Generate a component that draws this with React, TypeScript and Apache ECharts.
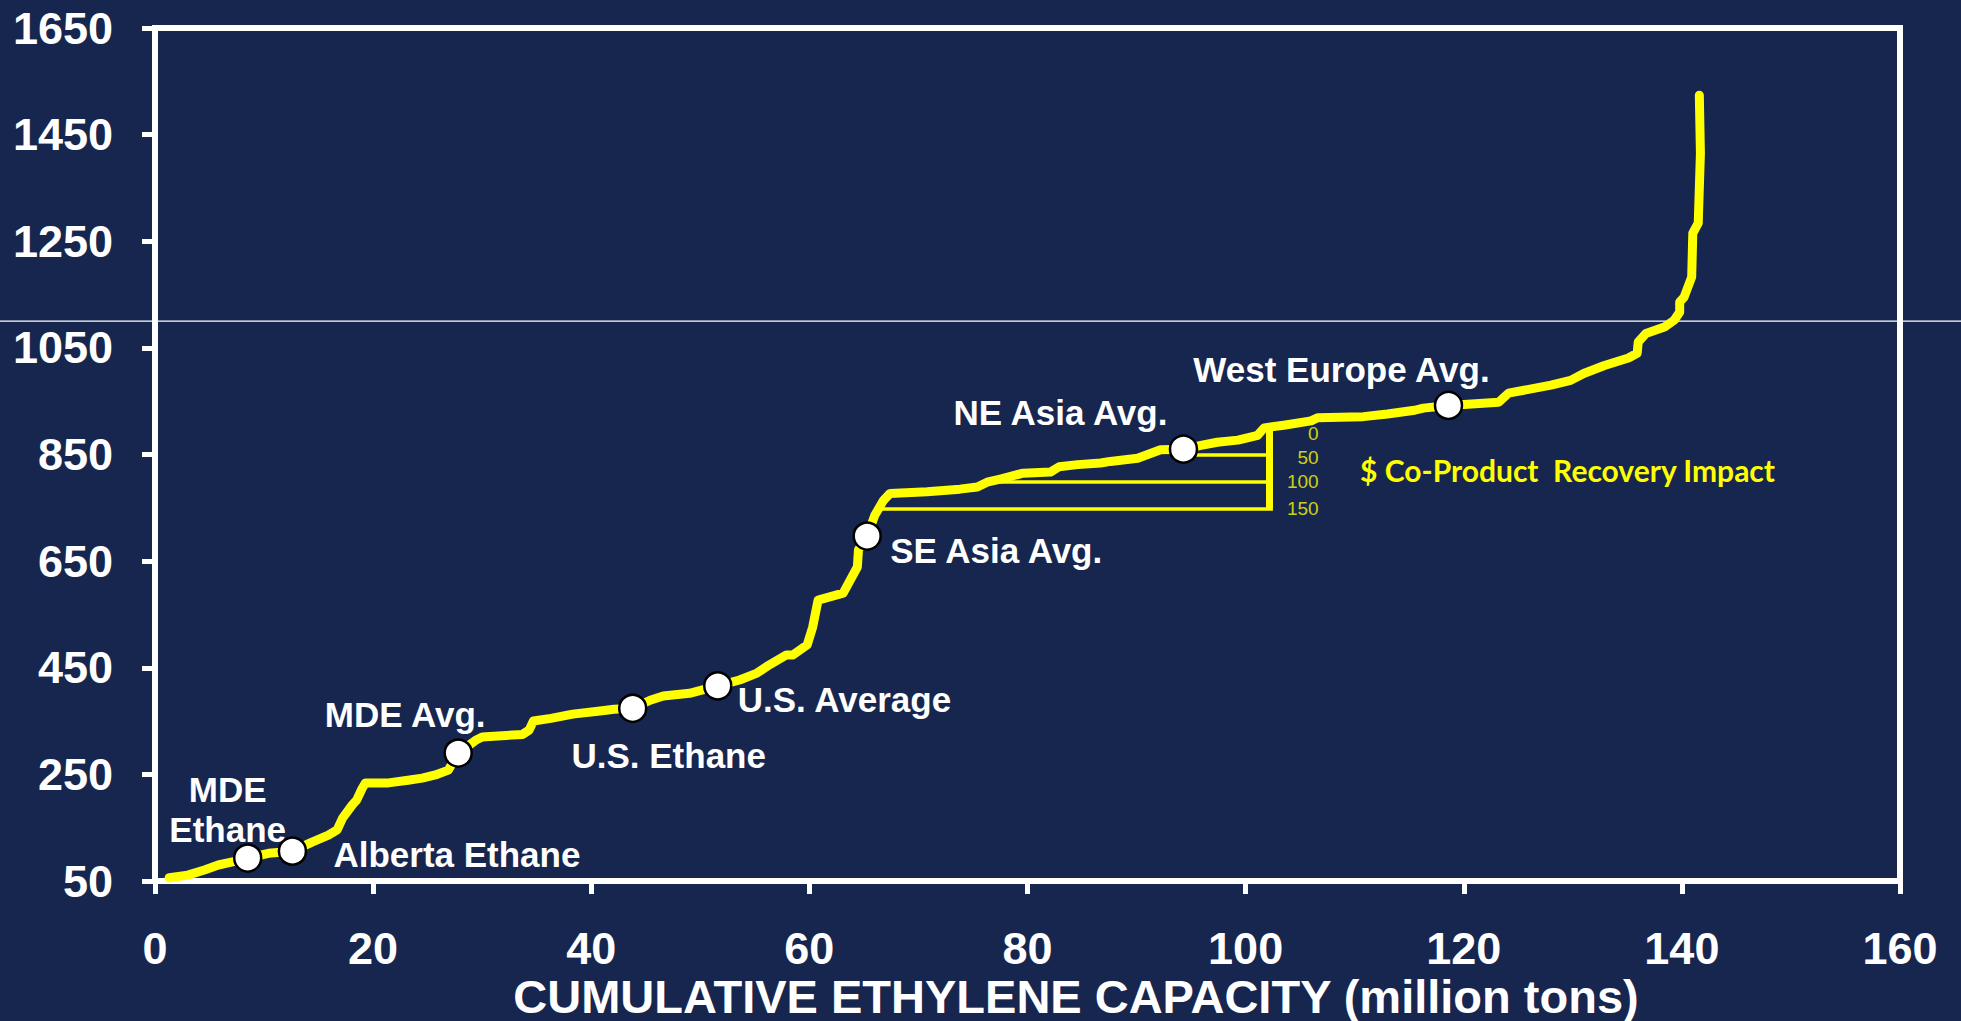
import React, { useEffect, useRef } from "react";
import * as echarts from "echarts";

// ---- data ----
const yTickValues = [50, 250, 450, 650, 850, 1050, 1250, 1450, 1650];
const xMin = 0;
const xMax = 160;
const xStep = 20;

const curveX = [
  1.3, 3.0, 4.6, 5.8, 7.1, 8.5, 10.4, 12.6, 14.4, 15.9, 16.7, 17.2, 18.1, 18.5, 19.0, 19.3,
  21.4, 23.2, 24.5, 25.7, 26.9, 27.8, 29.4, 30.0, 33.7, 34.3, 34.7, 36.3, 38.3, 40.8, 42.1,
  43.8, 45.4, 46.6, 49.0, 51.6, 53.6, 55.2, 56.3, 57.9, 58.5, 59.8, 60.3, 60.8, 63.1, 64.4,
  64.5, 65.3, 66.0, 66.8, 67.4, 70.8, 73.8, 75.4, 76.3, 77.5, 79.6, 82.1, 82.9, 84.6, 86.7,
  87.6, 90.1, 92.2, 94.3, 95.9, 97.4, 99.3, 101.1, 101.7, 103.5, 106.0, 106.6, 110.8, 113.0,
  115.5, 116.3, 118.6, 123.2, 124.1, 128.0, 129.8, 131.0, 132.9, 135.1, 135.9, 136.0, 136.7,
  138.4, 139.3, 139.8, 139.8, 140.2, 140.9, 141.0, 141.5, 141.7, 141.6,
];
const curveY = [
  56, 61, 71, 80, 86, 93, 102, 106, 123, 136, 146, 168, 193, 202, 224, 234,
  234, 239, 243, 249, 258, 290, 314, 320, 325, 333, 350, 355, 363, 369, 372,
  374, 389, 397, 402, 416, 427, 440, 455, 474, 474, 493, 526, 577, 590, 639,
  671, 697, 736, 764, 777, 780, 785, 789, 798, 804, 815, 817, 827, 831, 834,
  837, 843, 859, 860, 867, 873, 877, 886, 900, 905, 913, 919, 921, 926,
  933, 937, 942, 948, 965, 980, 989, 1002, 1017, 1031, 1040, 1061, 1077,
  1089, 1102, 1117, 1136, 1145, 1183, 1265, 1284, 1415, 1524,
];

const markerNames = [
  "MDE\nEthane",
  "Alberta Ethane",
  "MDE Avg.",
  "U.S. Ethane",
  "U.S. Average",
  "SE Asia Avg.",
  "NE Asia Avg.",
  "West Europe Avg.",
];
const markerX = [8.5, 12.6, 27.8, 43.8, 51.6, 65.3, 94.3, 118.6];
const markerY = [93, 106, 290, 374, 416, 697, 860, 942];

const bracketX = 102.2;
const bracketTop = 899;
const bracketOffsets = [0, 50, 100, 150];
const bracketLeftEnds = [94.3, 77.3, 66.6]; // for offsets 50, 100, 150
const gridLineValue = 1100;

const xAxisTitle = "CUMULATIVE ETHYLENE CAPACITY (million tons)";
const bracketTitle = "$ Co-Product  Recovery Impact";

// ---- styling / layout ----
const BG = "#16264F";
const YELLOW = "#FFFF00";
const FONT = "'Liberation Sans', Arial, sans-serif";

const markerLabelLayout: any[] = [
  { offset: [-20, -49], align: "center" },
  { offset: [41, 3], align: "left" },
  { offset: [-53, -39], align: "center" },
  { offset: [36, 47], align: "center" },
  { offset: [20, 14], align: "left" },
  { offset: [23, 14], align: "left" },
  { offset: [-123, -37], align: "center" },
  { offset: [-107, -36], align: "center" },
];
const bracketLabelDy = [5, 2, 0, 0];

export default function App() {
  const ref = useRef<HTMLDivElement>(null);

  useEffect(() => {
    document.body.style.margin = "0";
    document.body.style.background = BG;
    if (!ref.current) return;
    const chart = echarts.init(ref.current, undefined, { renderer: "svg" });

    const bracketSegments: any[] = [
      [
        { coord: [bracketX, bracketTop], lineStyle: { width: 7 } },
        { coord: [bracketX, bracketTop - bracketOffsets[3]] },
      ],
    ];
    bracketOffsets.slice(1).forEach((o, i) => {
      bracketSegments.push([
        { coord: [bracketLeftEnds[i], bracketTop - o], lineStyle: { width: 3.5 } },
        { coord: [bracketX + 0.3, bracketTop - o] },
      ]);
    });

    const option: any = {
      animation: false,
      backgroundColor: BG,
      grid: {
        left: 155,
        right: 61,
        top: 28,
        bottom: 140,
        show: true,
        borderColor: "#FFFFFF",
        borderWidth: 6,
        backgroundColor: "transparent",
      },
      xAxis: {
        type: "value",
        min: xMin,
        max: xMax,
        interval: xStep,
        axisLine: { show: true, lineStyle: { color: "#FFFFFF", width: 6 } },
        axisTick: { show: true, length: 13, inside: false, lineStyle: { color: "#FFFFFF", width: 5 } },
        splitLine: { show: false },
        axisLabel: {
          color: "#FFFFFF",
          fontSize: 45,
          fontWeight: "bold",
          fontFamily: FONT,
          lineHeight: 36,
          margin: 49,
          formatter: (v: number) => String(v),
        },
      },
      yAxis: {
        type: "value",
        min: yTickValues[0],
        max: yTickValues[yTickValues.length - 1],
        axisLine: { show: true, lineStyle: { color: "#FFFFFF", width: 6 } },
        axisTick: {
          show: true,
          length: 13,
          inside: false,
          customValues: yTickValues,
          lineStyle: { color: "#FFFFFF", width: 5 },
        },
        splitLine: { show: false },
        axisLabel: {
          customValues: yTickValues,
          color: "#FFFFFF",
          fontSize: 45,
          fontWeight: "bold",
          fontFamily: FONT,
          margin: 42,
          formatter: (v: number) => String(v),
        },
      },
      series: [
        {
          type: "line",
          data: curveX.map((x, i) => [x, curveY[i]]),
          showSymbol: false,
          symbol: "none",
          lineStyle: { color: YELLOW, width: 9, cap: "round", join: "round" },
          z: 3,
          markLine: {
            silent: true,
            symbol: ["none", "none"],
            label: { show: false },
            lineStyle: { color: YELLOW, type: "solid", width: 3.5 },
            data: bracketSegments,
          },
        },
        {
          type: "scatter",
          data: bracketOffsets.map((o, i) => ({
            value: [bracketX, bracketTop - o],
            label: { offset: [49, bracketLabelDy[i]] },
          })),
          symbolSize: 0,
          z: 4,
          label: {
            show: true,
            position: "inside",
            formatter: (p: any) => String(bracketOffsets[p.dataIndex]),
            align: "right",
            verticalAlign: "middle",
            color: YELLOW,
            fontSize: 19,
            fontFamily: FONT,
            textBorderWidth: 0,
          },
        },
        {
          type: "scatter",
          data: markerX.map((x, i) => ({
            value: [x, markerY[i]],
            name: markerNames[i],
            label: {
              offset: markerLabelLayout[i].offset,
              align: markerLabelLayout[i].align,
            },
          })),
          symbol: "circle",
          symbolSize: 27,
          itemStyle: { color: "#FFFFFF", borderColor: "#000000", borderWidth: 2.5, opacity: 1 },
          z: 5,
          label: {
            show: true,
            position: "inside",
            formatter: (p: any) => p.name,
            verticalAlign: "middle",
            color: "#FFFFFF",
            fontSize: 35,
            fontWeight: "bold",
            fontFamily: FONT,
            lineHeight: 40,
            textBorderWidth: 0,
          },
        },
      ],
    };
    chart.setOption(option);

    const gy = chart.convertToPixel({ yAxisIndex: 0 }, gridLineValue) as number;
    chart.setOption({
      graphic: [
        {
          type: "line",
          z: 1,
          silent: true,
          shape: { x1: 0, y1: gy, x2: 1961, y2: gy },
          style: { stroke: "#FFFFFF", lineWidth: 1.3 },
        },
        {
          type: "text",
          x: 1076,
          y: 996,
          z: 10,
          style: {
            text: xAxisTitle,
            fill: "#FFFFFF",
            font: `bold 47px ${FONT}`,
            lineHeight: 38,
            align: "center",
            verticalAlign: "middle",
          },
        },
        {
          type: "text",
          x: 1360,
          y: 470,
          z: 10,
          style: {
            text: bracketTitle,
            fill: YELLOW,
            font: "bold 30px Lato, 'Open Sans', sans-serif",
            align: "left",
            verticalAlign: "middle",
          },
        },
      ],
    });

    return () => chart.dispose();
  }, []);

  return <div ref={ref} style={{ width: 1961, height: 1021 }} />;
}
